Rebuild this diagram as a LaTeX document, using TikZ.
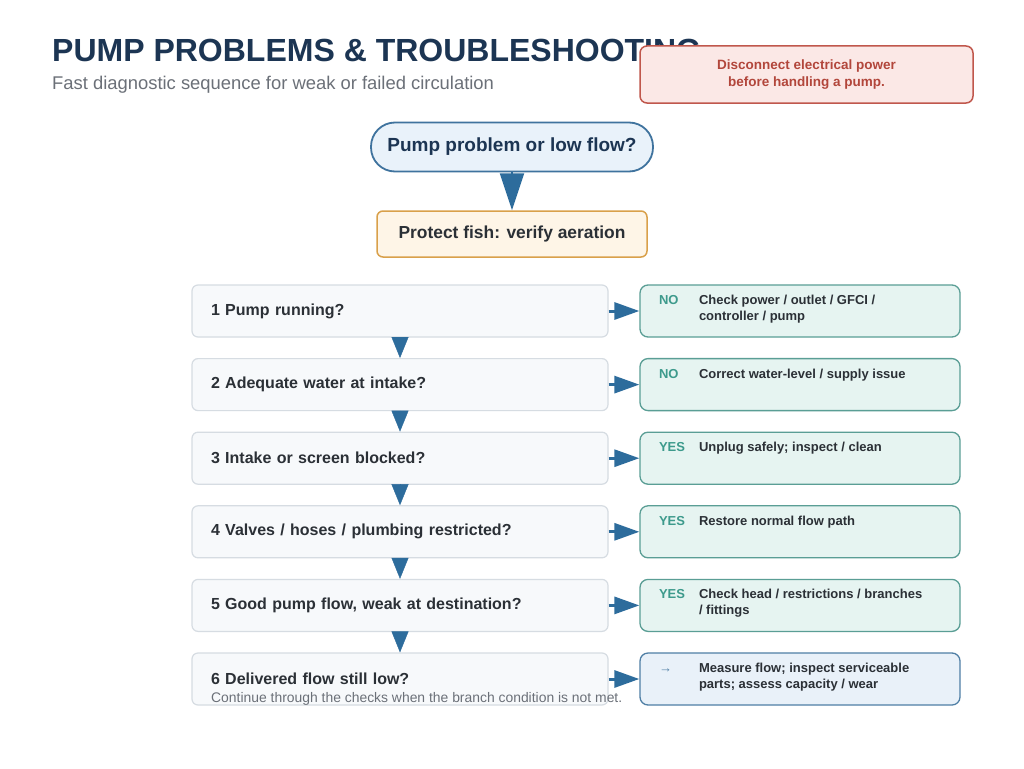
\documentclass[tikz,border=0pt]{standalone}
\usepackage{fontspec}
\setmainfont{Liberation Sans}
\usetikzlibrary{arrows.meta}

\definecolor{navy}{HTML}{1C3553}
\definecolor{subgray}{HTML}{6B7078}
\definecolor{ink}{HTML}{2B3036}
\definecolor{flowblue}{HTML}{2D6C9C}
\definecolor{stepfill}{HTML}{F7F9FB}
\definecolor{stepline}{HTML}{D6DCE2}
\definecolor{tealfill}{HTML}{E6F4F1}
\definecolor{tealline}{HTML}{5A9E95}
\definecolor{tealtext}{HTML}{3D9A8C}
\definecolor{bluefill}{HTML}{E9F1F9}
\definecolor{blueline}{HTML}{4F7FA5}
\definecolor{startfill}{HTML}{E9F2FA}
\definecolor{startline}{HTML}{3F739E}
\definecolor{warnfill}{HTML}{FBE8E6}
\definecolor{warnline}{HTML}{C0574C}
\definecolor{warntext}{HTML}{B2463B}
\definecolor{fishfill}{HTML}{FEF5E7}
\definecolor{fishline}{HTML}{D9A04A}

% label column + answer text, top aligned in the box
\newcommand{\answer}[3][tealtext]{\parbox[c][32pt][t]{282pt}{\makebox[40pt][l]{\textcolor{#1}{#2}}\parbox[t]{242pt}{#3}}}

\begin{document}
\begin{tikzpicture}[x=1pt,y=-1pt,
    stepbox/.style={draw=stepline,fill=stepfill,line width=1.2pt,rounded corners=6pt,
        text width=378pt,inner xsep=19pt,minimum height=52pt,align=left,
        font=\bfseries\fontsize{16}{19}\selectfont,text=ink},
    resbox/.style={draw=tealline,fill=tealfill,line width=1.3pt,rounded corners=8pt,
        inner xsep=19pt,inner ysep=10pt,minimum width=320pt,
        font=\bfseries\fontsize{13}{16}\selectfont,text=ink},
    vflow/.style={draw=flowblue,fill=flowblue,-{Triangle[width=17pt,length=21pt]}},
    hflow/.style={draw=flowblue,line width=3pt,-{Triangle[width=17pt,length=25pt]}}]

    \useasboundingbox[fill=white] (0,0) rectangle (1024,768);

    % heading
    \node[anchor=base west,inner sep=0pt,text=navy,font=\bfseries\fontsize{32}{36}\selectfont] (title) at (52,62) {PUMP PROBLEMS \& TROUBLESHOOTING};
    \node[anchor=base west,inner sep=0pt,text=subgray,font=\fontsize{18.4}{22}\selectfont] (subtitle) at (52,89) {Fast diagnostic sequence for weak or failed circulation};

    \node[draw=warnline,fill=warnfill,line width=1.5pt,rounded corners=7pt,minimum width=333pt,minimum height=57pt,
        align=center,text=warntext,font=\bfseries\fontsize{13.5}{17}\selectfont] (warn) at (806.5,74.5)
        {Disconnect electrical power\\before handling a pump.};

    % start
    \node[draw=startline,fill=startfill,line width=1.8pt,rounded corners=24pt,minimum width=282pt,minimum height=49pt,
        text=navy,font=\bfseries\fontsize{19}{23}\selectfont] (start) at (512,147) {Pump problem or low flow?};
    \node[draw=fishline,fill=fishfill,line width=1.5pt,rounded corners=6pt,minimum width=270pt,minimum height=46pt,
        text=ink,font=\bfseries\fontsize{17.4}{20}\selectfont] (protect) at (512,234) {Protect fish: verify aeration};

    \path[draw=flowblue,line width=2pt,-{Triangle[width=24pt,length=37pt]}] (start) -- (protect);

    % checks
    \node[stepbox] (s1) at (400,311) {1 Pump running?};
    \node[stepbox] (s2) at (400,384.6) {2 Adequate water at intake?};
    \node[stepbox] (s3) at (400,458.2) {3 Intake or screen blocked?};
    \node[stepbox] (s4) at (400,531.8) {4 Valves / hoses / plumbing restricted?};
    \node[stepbox] (s5) at (400,605.4) {5 Good pump flow, weak at destination?};
    \node[stepbox] (s6) at (400,679) {6 Delivered flow still low?};
    \node[anchor=west,inner sep=0pt,text=subgray,font=\fontsize{13.9}{17}\selectfont] (note) at (211,699)
        {Continue through the checks when the branch condition is not met.};

    % actions
    \node[resbox] (r1) at (800,311) {\answer{NO}{Check power / outlet / GFCI /\\controller / pump}};
    \node[resbox] (r2) at (800,384.6) {\answer{NO}{Correct water-level / supply issue}};
    \node[resbox] (r3) at (800,458.2) {\answer{YES}{Unplug safely; inspect / clean}};
    \node[resbox] (r4) at (800,531.8) {\answer{YES}{Restore normal flow path}};
    \node[resbox] (r5) at (800,605.4) {\answer{YES}{Check head / restrictions / branches\\/ fittings}};
    \node[resbox,draw=blueline,fill=bluefill] (r6) at (800,679)
        {\answer[blueline]{\mdseries →}{Measure flow; inspect serviceable\\parts; assess capacity / wear}};

    \foreach \a/\b in {s1/s2,s2/s3,s3/s4,s4/s5,s5/s6}
        \path[vflow] (\a.south) -- (\b.north);
    \foreach \i in {1,...,6}
        \path[hflow] (s\i.east) -- (r\i.west);
\end{tikzpicture}
\end{document}
